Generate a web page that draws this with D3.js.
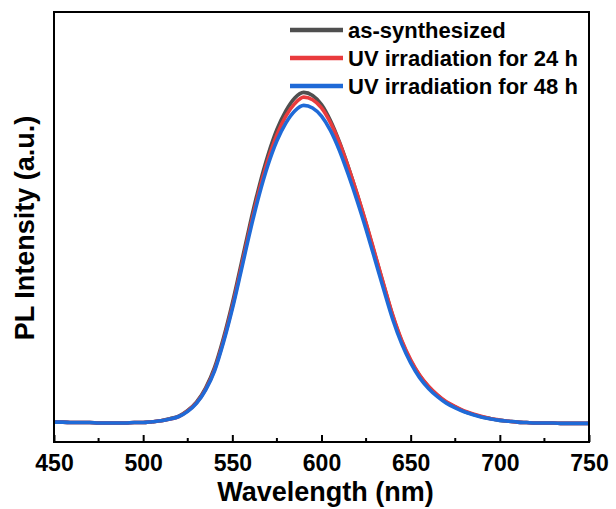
<!DOCTYPE html>
<html>
<head>
<meta charset="utf-8">
<script src="https://cdn.jsdelivr.net/npm/d3@7"></script>
<style>
    html, body { margin: 0; padding: 0; background: #fff; }
    svg text { font-family: "Liberation Sans", Arial, sans-serif; font-weight: bold; fill: #000; }
</style>
</head>
<body>
<div id="chart"></div>
<script>
// wavelength (nm), read every 5 nm
const wavelengths = d3.range(450, 751, 5);

const seriesNames = ['as-synthesized', 'UV irradiation for 24 h', 'UV irradiation for 48 h'];
const seriesColors = ['#4f4f4f', '#e93b3d', '#1f6ad7'];

const asSynth = [
    5.1, 5.1, 5.0, 5.0, 5.0, 4.9, 4.9, 4.9, 4.9, 5.0, 5.0, 5.2,
    5.4, 5.9, 6.5, 7.8, 9.8, 13.0, 17.7, 24.5, 32.6, 41.8, 51.1, 59.6, 66.9, 72.8, 77.1, 80.1, 81.4,
    80.7, 78.6, 74.9, 70.0, 64.2, 57.8, 51.0, 43.8, 36.6, 29.6, 23.8, 19.3, 15.9, 13.3, 11.3, 9.7,
    8.6, 7.6, 6.9, 6.3, 5.9, 5.5, 5.3, 5.1, 5.0, 4.9, 4.9, 4.9, 4.8, 4.8, 4.8, 4.8
];
const uv24 = [
    5.1, 5.1, 5.0, 5.0, 5.0, 4.9, 4.9, 4.9, 4.9, 5.0, 5.0, 5.2,
    5.4, 5.8, 6.4, 7.7, 9.6, 12.7, 17.2, 23.9, 31.8, 40.9, 50.1, 58.6, 65.8, 71.6, 75.9, 78.8, 80.3,
    79.7, 77.8, 74.4, 69.8, 64.1, 57.9, 51.2, 44.0, 36.8, 29.8, 24.0, 19.5, 16.0, 13.4, 11.4, 9.8,
    8.7, 7.7, 7.0, 6.4, 5.9, 5.6, 5.3, 5.1, 5.0, 4.9, 4.9, 4.9, 4.8, 4.8, 4.8, 4.8
];
const uv48 = [
    5.1, 5.1, 5.0, 5.0, 5.0, 4.9, 4.9, 4.9, 4.9, 5.0, 5.0, 5.2,
    5.4, 5.8, 6.4, 7.6, 9.5, 12.5, 16.9, 23.5, 31.3, 40.2, 49.3, 57.6, 64.6, 70.2, 74.3, 77.1, 78.4,
    77.8, 75.9, 72.6, 68.0, 62.4, 56.3, 49.7, 42.7, 35.6, 28.8, 23.2, 18.8, 15.4, 12.9, 11.0, 9.5,
    8.4, 7.5, 6.8, 6.2, 5.8, 5.5, 5.3, 5.1, 5.0, 4.9, 4.9, 4.9, 4.8, 4.8, 4.8, 4.8
];

const xTicks = [450, 500, 550, 600, 650, 700, 750];
const xMinorTicks = [475, 525, 575, 625, 675, 725];

const width = 616, height = 509;
const margin = { top: 12, right: 27, bottom: 67, left: 54 };
const w = width - margin.left - margin.right;
const h = height - margin.top - margin.bottom;

const svg = d3.select('#chart')
    .append('svg')
    .attr('width', width)
    .attr('height', height);

const g = svg.append('g')
    .attr('transform', `translate(${margin.left}, ${margin.top})`);

const xScale = d3.scaleLinear().domain([450, 750]).range([0, w]);
// arbitrary units, no ticks on this axis
const yScale = d3.scaleLinear().domain([0.5, 100]).range([h, 0]);

// curves: black first, blue on top
const allSeries = [asSynth, uv24, uv48];
const line = d3.line()
    .x((d, i) => xScale(wavelengths[i]))
    .y(d => yScale(d))
    .curve(d3.curveMonotoneX);

g.selectAll('.curve')
    .data(allSeries)
    .enter()
    .append('path')
    .classed('curve', true)
    .attr('d', line)
    .attr('fill', 'none')
    .attr('stroke', (d, i) => seriesColors[i])
    .attr('stroke-width', 3.6)
    .attr('stroke-linejoin', 'round');

// frame
g.append('rect')
    .attr('width', w)
    .attr('height', h)
    .attr('fill', 'none')
    .attr('stroke', '#000')
    .attr('stroke-width', 2);

// x axis: inward ticks
const xAxis = d3.axisBottom(xScale)
    .tickValues(xTicks)
    .tickSize(-7)
    .tickPadding(13)
    .tickFormat(d3.format('d'));
const axG = g.append('g')
    .attr('transform', `translate(0, ${h})`)
    .call(xAxis);
axG.select('.domain').remove();
axG.selectAll('line').attr('stroke', '#000').attr('stroke-width', 2);
axG.selectAll('text').style('font-size', '23px');

g.append('g')
    .attr('transform', `translate(0, ${h})`)
    .selectAll('line')
    .data(xMinorTicks)
    .enter()
    .append('line')
    .attr('x1', d => xScale(d))
    .attr('x2', d => xScale(d))
    .attr('y1', 0)
    .attr('y2', -4)
    .attr('stroke', '#000')
    .attr('stroke-width', 2);

// axis titles
svg.append('text')
    .attr('x', margin.left + w / 2 + 4)
    .attr('y', 501)
    .attr('text-anchor', 'middle')
    .style('font-size', '27px')
    .text('Wavelength (nm)');

svg.append('text')
    .attr('transform', `translate(34, ${margin.top + h / 2 + 1}) rotate(-90)`)
    .attr('text-anchor', 'middle')
    .style('font-size', '27px')
    .text('PL Intensity (a.u.)');

// legend
const legend = svg.append('g').attr('transform', 'translate(290, 30)');
const rows = legend.selectAll('.row')
    .data(seriesNames)
    .enter()
    .append('g')
    .attr('transform', (d, i) => `translate(0, ${i * 28})`);
rows.append('line')
    .attr('x1', 0)
    .attr('x2', 53)
    .attr('stroke', (d, i) => seriesColors[i])
    .attr('stroke-width', 4.5);
rows.append('text')
    .attr('x', 58)
    .attr('y', 8)
    .style('font-size', '22px')
    .text(d => d);
</script>
</body>
</html>
